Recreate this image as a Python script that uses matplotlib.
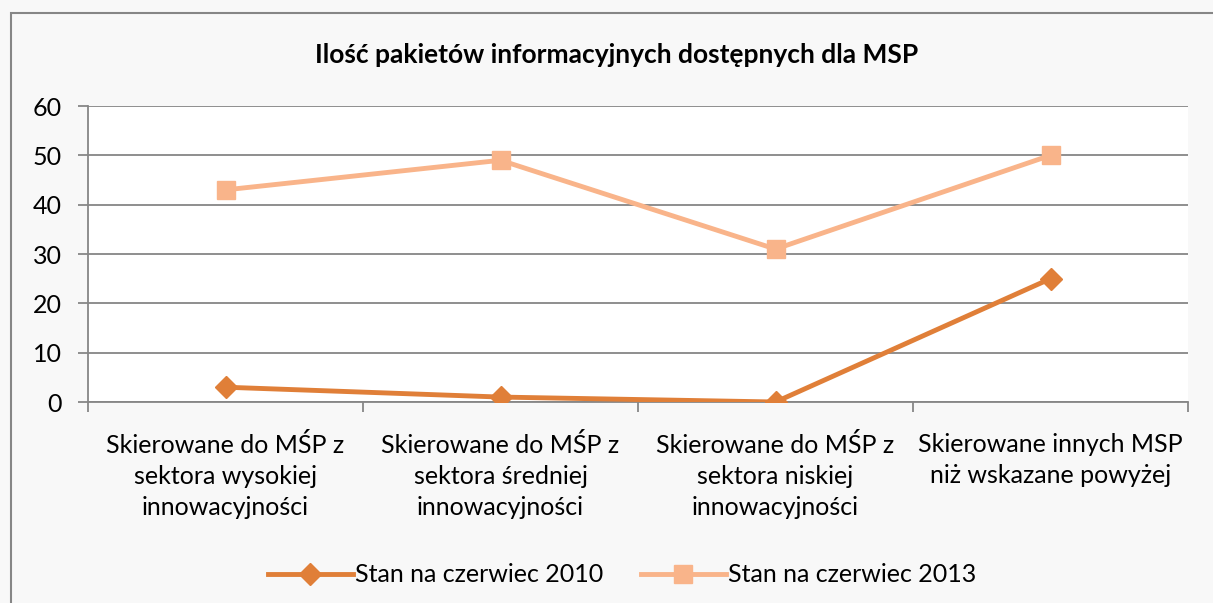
import matplotlib.pyplot as plt
from matplotlib.patches import Rectangle

plt.rcParams['font.family'] = ['Lato', 'DejaVu Sans']

categories = [
    "Skierowane do MŚP z\nsektora wysokiej\ninnowacyjności",
    "Skierowane do MŚP z\nsektora średniej\ninnowacyjności",
    "Skierowane do MŚP z\nsektora niskiej\ninnowacyjności",
    "Skierowane innych MSP\nniż wskazane powyżej",
]
stan_2010 = [3, 1, 0, 25]
stan_2013 = [43, 49, 31, 50]
title = "Ilość pakietów informacyjnych dostępnych dla MSP"

W, H = 1213, 603
fig = plt.figure(figsize=(W / 100, H / 100), dpi=100, facecolor="#f8f8f8")
ax = fig.add_axes([88 / W, 1 - 402 / H, 1100 / W, 296 / H])
ax.set_facecolor("white")

# outer chart frame (right/bottom edges are cut off in the reference)
fig.patches.append(Rectangle((10.5 / W, -0.1), 1.2, 1 - 13.5 / H + 0.1,
                             transform=fig.transFigure, fill=False,
                             edgecolor="#868686", linewidth=1.5, zorder=0))

x = [i + 0.5 for i in range(len(categories))]
ax.plot(x, stan_2010, color="#E07F38", lw=3.5, marker="D", ms=11,
        label="Stan na czerwiec 2010", zorder=3)
ax.plot(x, stan_2013, color="#F9B48A", lw=3.5, marker="s", ms=13,
        label="Stan na czerwiec 2013", zorder=3)

ax.set_xlim(0, len(categories))
ax.set_ylim(0, 60)
ax.set_yticks(range(0, 61, 10))
ax.yaxis.grid(True, color="#868686", lw=1.3)
ax.set_axisbelow(True)

ax.set_xticks(range(len(categories) + 1))
ax.set_xticklabels([])
ax.set_xticks(x, minor=True)
ax.set_xticklabels(categories, minor=True, fontsize=18, linespacing=1.43)
ax.tick_params(axis="x", which="minor", length=0, pad=22)
ax.tick_params(axis="x", which="major", length=7, color="#868686", width=1.3)
ax.tick_params(axis="y", length=7, color="#868686", width=1.3, labelsize=18, pad=12)

for s in ["top", "right"]:
    ax.spines[s].set_visible(False)
for s in ["left", "bottom"]:
    ax.spines[s].set_color("#868686")
    ax.spines[s].set_linewidth(1.3)

fig.text(617 / W, 1 - 55 / H, title, ha="center", va="center",
         fontsize=19, fontweight="bold")

fig.legend(loc="center", bbox_to_anchor=(622 / W, 1 - 575 / H), ncol=2,
           frameon=False, fontsize=18, handlelength=3.4, handletextpad=0.1,
           columnspacing=1.5)

fig.savefig("out.png", dpi=100, facecolor=fig.get_facecolor())
